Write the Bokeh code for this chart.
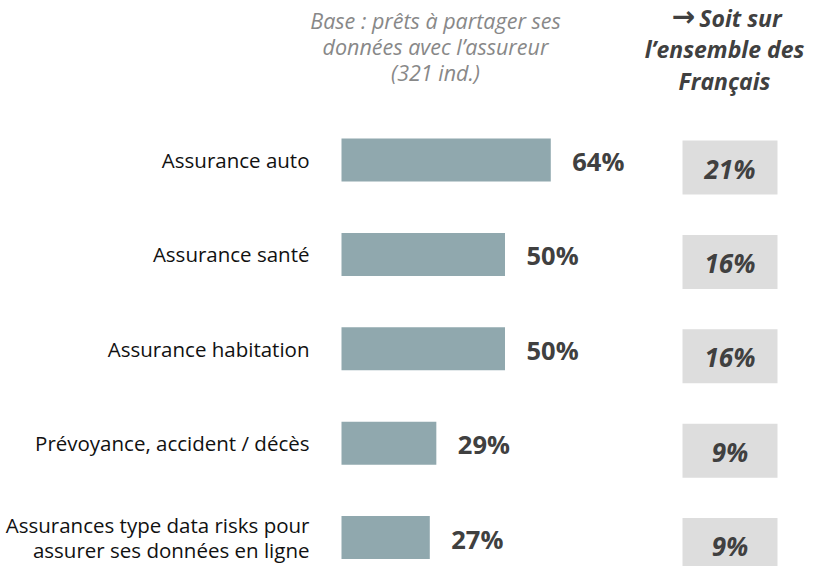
from bokeh.plotting import figure
from bokeh.models import Range1d, ColumnDataSource, Label
from bokeh.core.properties import value
from bokeh.embed import file_html
from bokeh.resources import INLINE

# ---- data ----
categories = [
    "Assurance auto",
    "Assurance santé",
    "Assurance habitation",
    "Prévoyance, accident / décès",
    "Assurances type data risks pour\nassurer ses données en ligne",
]
share_base = [64, 50, 50, 29, 27]          # % among those ready to share data (321 ind.)
share_all = [21, 16, 16, 9, 9]             # % among all French people
header_left = ["Base : prêts à partager ses", "données avec l’assureur", "(321 ind.)"]
header_right = ["Soit sur", "l’ensemble des", "Français"]
arrow = "\u2192"

# ---- layout constants (pixels) ----
W, H = 814, 566
PX = 3.27            # pixels per percent
BAR_X0 = 341         # bar start (pixels)
ROW = 94.4           # row spacing (pixels)
ROW0 = 159.5         # first row centre (pixels from top)

FONT = "Open Sans"
p = figure(width=W, height=H, output_backend="svg", toolbar_location=None,
           x_range=Range1d(-BAR_X0 / PX, (W - BAR_X0) / PX),
           y_range=Range1d((H - ROW0) / ROW, -ROW0 / ROW),
           min_border=0, min_border_left=0, min_border_right=0,
           min_border_top=0, min_border_bottom=0)
p.xaxis.visible = False
p.yaxis.visible = False
p.xgrid.visible = False
p.ygrid.visible = False
p.outline_line_color = None
p.background_fill_color = "white"
p.border_fill_color = "white"

rows = list(range(len(categories)))
src = ColumnDataSource(dict(
    row=rows,
    base=share_base,
    base_lbl=[f"{v}%" for v in share_base],
    lbl_x=[v + 21.5 / PX for v in share_base],
    lbl_y=[r + 1 / ROW for r in rows],
    all_lbl=[f"{v}%" for v in share_all],
    box_y=[r + 7.5 / ROW for r in rows],
    box_txt_y=[r + 8.5 / ROW for r in rows],
))

# category label lines (multi-line categories split into separate lines)
LINE_H = 25 / ROW
cat_txt, cat_y = [], []
for r, c in zip(rows, categories):
    parts = c.split("\n")
    n = len(parts)
    for k, t in enumerate(parts):
        cat_txt.append(t)
        cat_y.append(r + (k - (n - 1) / 2) * LINE_H)
cat_src = ColumnDataSource(dict(txt=cat_txt, y=cat_y))

# bars
p.hbar(y="row", left=0, right="base", height=43 / ROW, source=src,
       fill_color="#90a8ae", line_color=None)

# value labels
p.text(x="lbl_x", y="lbl_y", text="base_lbl", source=src,
       text_font=value(FONT), text_font_style="bold", text_font_size="25.5px",
       text_color="#404040", text_align="left", text_baseline="middle")

# category labels
p.text(x=-32 / PX, y="y", text="txt", source=cat_src,
       text_font=value(FONT), text_font_size="20.5px", text_color="#111111",
       text_align="right", text_baseline="middle")

# grey boxes with national share
BOX_L = (682 - BAR_X0) / PX
BOX_R = (777 - BAR_X0) / PX
p.hbar(y="box_y", left=BOX_L, right=BOX_R, height=54 / ROW, source=src,
       fill_color="#dddddd", line_color=None)
p.text(x=(BOX_L + BOX_R) / 2, y="box_txt_y", text="all_lbl", source=src,
       text_font=value(FONT), text_font_style="bold italic", text_font_size="26px",
       text_color="#404040", text_align="center", text_baseline="middle")

# headers
for i, t in enumerate(header_left):
    p.add_layout(Label(x=435, y=H - 20 - i * 26, x_units="screen", y_units="screen",
                       text=t, text_font=FONT, text_font_style="italic",
                       text_font_size="21.5px", text_color="#888888",
                       text_align="center", text_baseline="middle"))
for i, t in enumerate(header_right):
    p.add_layout(Label(x=(740 if i == 0 else 724), y=H - 17 - i * 31.5,
                       x_units="screen", y_units="screen",
                       text=t, text_font=FONT, text_font_style="bold italic",
                       text_font_size="23px", text_color="#404040",
                       text_align="center", text_baseline="middle"))
p.add_layout(Label(x=683, y=H - 16, x_units="screen", y_units="screen",
                   text=arrow, text_font="DejaVu Sans", text_font_style="bold",
                   text_font_size="28px", text_color="#404040",
                   text_align="center", text_baseline="middle"))

open("out.html", "w").write(file_html(p, INLINE))
